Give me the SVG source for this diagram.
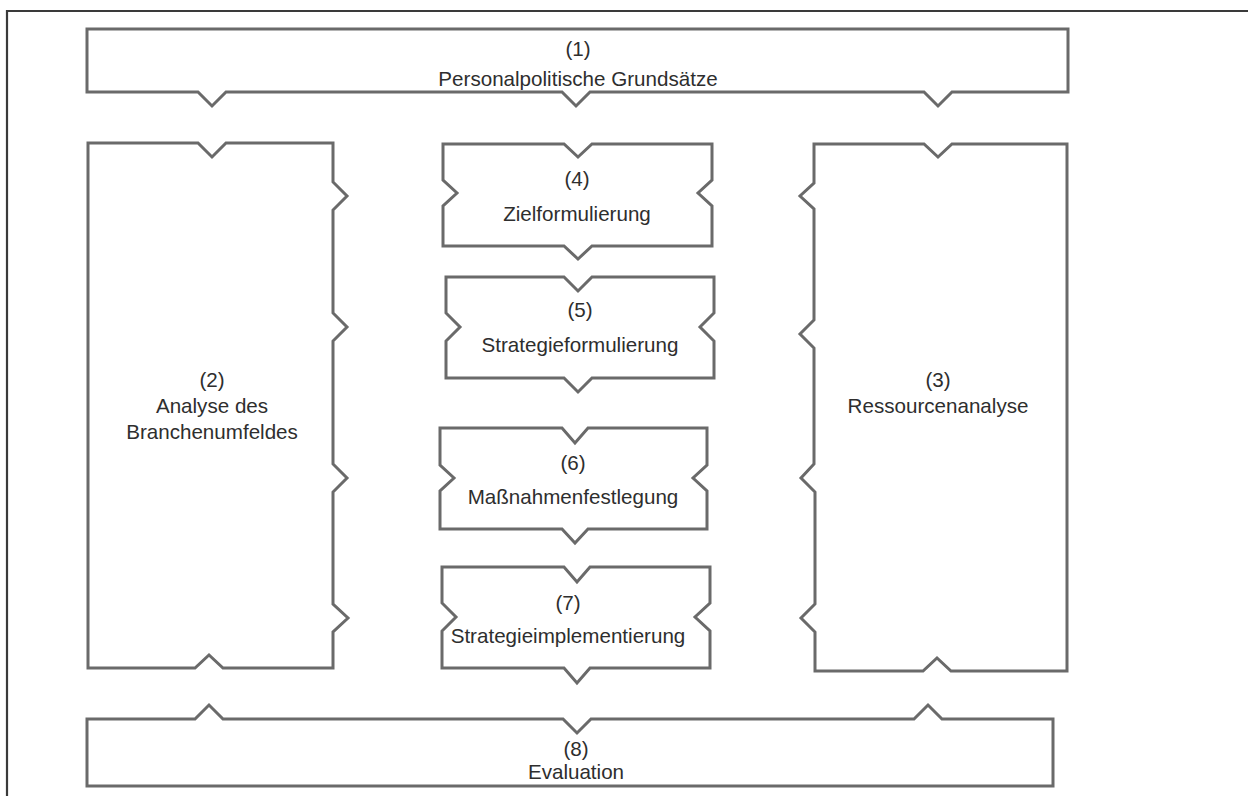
<svg xmlns="http://www.w3.org/2000/svg" width="1248" height="796" viewBox="0 0 1248 796">
<style>
.box{fill:#fff;stroke:#6a6a6a;stroke-width:3;stroke-linejoin:miter}
.frame{fill:none;stroke:#3a3a3a;stroke-width:2.2}
text{font-family:"Liberation Sans",Arial,sans-serif;font-size:20.6px;fill:#2e2e2e;text-anchor:middle}
</style>
<rect width="1248" height="796" fill="#fff"/>
<path class="frame" d="M7,796 V11 H1248"/>
<g id="connectors"></g>
<g id="n1">
<path class="box" d="M87,29 H1068 V92 H952 L938,106 L924,92 H590 L576,106 L562,92 H226 L212,106 L198,92 H87 Z"/>
<text x="578" y="56">(1)</text>
<text x="578" y="86">Personalpolitische Grundsätze</text>
</g>
<g id="n2">
<path class="box" d="M88,143 H198 L212,157 L226,143 H333 V182 L347,196 L333,210 V313 L347,327 L333,341 V464 L347,478 L333,492 V604 L348,618 L333,632 V668 H223 L209,655 L195,668 H88 Z"/>
<text x="212" y="387">(2)</text>
<text x="212" y="413">Analyse des</text>
<text x="212" y="439">Branchenumfeldes</text>
</g>
<g id="n3">
<path class="box" d="M814,144 H924 L938,157 L952,144 H1067 V671 H951 L937,658 L923,671 H815 V632 L801,618 L815,604 V492 L801,478 L814,464 V348 L800,334 L814,320 V209 L800,196 L814,183 Z"/>
<text x="938" y="387">(3)</text>
<text x="938" y="413">Ressourcenanalyse</text>
</g>
<g id="n4">
<path class="box" d="M443,144 H564 L578,157 L592,144 H712 V180 L698,193 L712,206 V246 H592 L578,259 L564,246 H443 V206 L457,193 L443,180 Z"/>
<text x="577" y="186">(4)</text>
<text x="577" y="221">Zielformulierung</text>
</g>
<g id="n5">
<path class="box" d="M446,277 H564 L578,291 L592,277 H714 V313 L700,327 L714,341 V378 H592 L578,392 L564,378 H446 V341 L460,327 L446,313 Z"/>
<text x="580" y="317">(5)</text>
<text x="580" y="352">Strategieformulierung</text>
</g>
<g id="n6">
<path class="box" d="M440,428 H562 L575,443 L588,428 H707 V465 L693,478 L707,491 V529 H588 L575,543 L562,529 H440 V491 L454,478 L440,465 Z"/>
<text x="573" y="470">(6)</text>
<text x="573" y="504">Maßnahmenfestlegung</text>
</g>
<g id="n7">
<path class="box" d="M442,567 H564 L577,582 L590,567 H710 V603 L695,617 L710,631 V668 H590 L577,683 L564,668 H442 V631 L456,617 L442,603 Z"/>
<text x="568" y="610">(7)</text>
<text x="568" y="643">Strategieimplementierung</text>
</g>
<g id="n8">
<path class="box" d="M87,719 H195 L209,705 L223,719 H563 L577,733 L591,719 H914 L928,705 L942,719 H1053 V786 H87 Z"/>
<text x="576" y="756">(8)</text>
<text x="576" y="779">Evaluation</text>
</g>
</svg>
